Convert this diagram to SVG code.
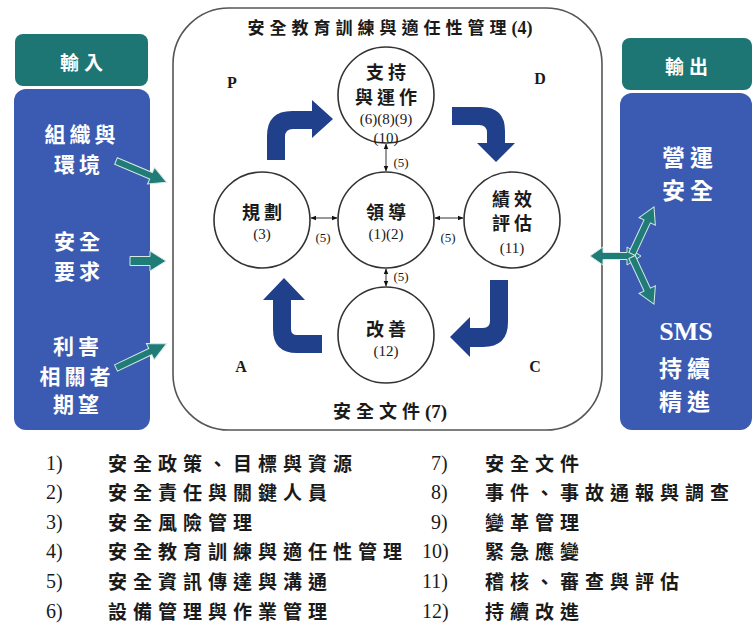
<svg xmlns="http://www.w3.org/2000/svg" width="755" height="632" viewBox="0 0 755 632">
<style>
.cjk{font-family:"Noto Sans CJK TC","Noto Sans CJK SC",sans-serif;font-weight:700;}
.ser{font-family:"Liberation Serif","Times New Roman",serif;}
.wt{fill:#ffffff;}
.dk{fill:#1a1a1a;}
.circ{fill:#ffffff;stroke:#333333;stroke-width:1.6;}
.big{fill:#21408c;}
.teal{fill:#1f7c76;stroke:#d6e8e6;stroke-width:1;}
.thin{stroke:#555555;stroke-width:1.2;fill:none;}
.hdr{fill:#1d7673;}
.body{fill:#3b5bb2;}
</style>
<defs>
<marker id="sm" viewBox="0 0 10 10" refX="9" refY="5" markerWidth="6" markerHeight="6" orient="auto-start-reverse" markerUnits="userSpaceOnUse">
<path d="M0 1 L10 5 L0 9 Z" fill="#111111"/>
</marker>
</defs>
<rect width="755" height="632" fill="#ffffff"/>

<g id="input-panel">
<rect class="hdr" x="15" y="34" width="133" height="52" rx="8"/>
<rect class="body" x="14" y="89" width="136" height="341" rx="12"/>
<text class="cjk wt" x="84" y="70" font-size="19" letter-spacing="5" text-anchor="middle">輸入</text>
<text class="cjk wt" x="82" y="142" font-size="21" letter-spacing="4" text-anchor="middle">組織與</text>
<text class="cjk wt" x="79" y="172" font-size="21" letter-spacing="4" text-anchor="middle">環境</text>
<text class="cjk wt" x="79" y="249" font-size="21" letter-spacing="4" text-anchor="middle">安全</text>
<text class="cjk wt" x="79" y="279" font-size="21" letter-spacing="4" text-anchor="middle">要求</text>
<text class="cjk wt" x="78" y="354" font-size="21" letter-spacing="4" text-anchor="middle">利害</text>
<text class="cjk wt" x="77" y="384" font-size="21" letter-spacing="4" text-anchor="middle">相關者</text>
<text class="cjk wt" x="78" y="412" font-size="21" letter-spacing="4" text-anchor="middle">期望</text>
</g>

<g id="output-panel">
<rect class="hdr" x="622" y="38" width="130" height="52" rx="8"/>
<rect class="body" x="620" y="93" width="132" height="337" rx="12"/>
<text class="cjk wt" x="689" y="74" font-size="19" letter-spacing="5" text-anchor="middle">輸出</text>
<text class="cjk wt" x="690" y="166" font-size="23" letter-spacing="5" text-anchor="middle">營運</text>
<text class="cjk wt" x="690" y="199" font-size="23" letter-spacing="5" text-anchor="middle">安全</text>
<text class="ser wt" x="686" y="340" font-size="26" font-weight="bold" text-anchor="middle">SMS</text>
<text class="cjk wt" x="687" y="377" font-size="23" letter-spacing="5" text-anchor="middle">持續</text>
<text class="cjk wt" x="687" y="410" font-size="23" letter-spacing="5" text-anchor="middle">精進</text>
</g>

<g id="sms-frame">
<rect x="173" y="8" width="429" height="422" rx="56" fill="#ffffff" stroke="#555555" stroke-width="1.6"/>
<text x="390" y="34" text-anchor="middle" class="dk"><tspan class="cjk" font-size="17" letter-spacing="5">安全教育訓練與適任性管理</tspan><tspan class="ser" font-size="18" font-weight="bold">(4)</tspan></text>
<text x="390" y="418" text-anchor="middle" class="dk"><tspan class="cjk" font-size="18" letter-spacing="5">安全文件</tspan><tspan class="ser" font-size="19" font-weight="bold">(7)</tspan></text>
<text class="ser dk" x="232" y="88" font-size="16" font-weight="bold" text-anchor="middle">P</text>
<text class="ser dk" x="540" y="84" font-size="16" font-weight="bold" text-anchor="middle">D</text>
<text class="ser dk" x="241" y="372" font-size="16" font-weight="bold" text-anchor="middle">A</text>
<text class="ser dk" x="535" y="372" font-size="16" font-weight="bold" text-anchor="middle">C</text>
</g>

<g id="node-support">
<circle class="circ" cx="386" cy="95" r="48"/>
<text class="cjk dk" x="388" y="79" font-size="18" letter-spacing="4" text-anchor="middle">支持</text>
<text class="cjk dk" x="388" y="104" font-size="18" letter-spacing="4" text-anchor="middle">與運作</text>
<text class="ser dk" x="386" y="124" font-size="15" text-anchor="middle">(6)(8)(9)</text>
<text class="ser dk" x="386" y="143" font-size="15" text-anchor="middle">(10)</text>
</g>

<g id="node-plan">
<circle class="circ" cx="262" cy="220" r="48"/>
<text class="cjk dk" x="264" y="219" font-size="18" letter-spacing="4" text-anchor="middle">規劃</text>
<text class="ser dk" x="262" y="239" font-size="15" text-anchor="middle">(3)</text>
</g>

<g id="node-lead">
<circle class="circ" cx="386" cy="220" r="48"/>
<text class="cjk dk" x="388" y="219" font-size="18" letter-spacing="4" text-anchor="middle">領導</text>
<text class="ser dk" x="386" y="239" font-size="15" text-anchor="middle">(1)(2)</text>
</g>

<g id="node-eval">
<circle class="circ" cx="512" cy="220" r="48"/>
<text class="cjk dk" x="514" y="206" font-size="18" letter-spacing="4" text-anchor="middle">績效</text>
<text class="cjk dk" x="514" y="230" font-size="18" letter-spacing="4" text-anchor="middle">評估</text>
<text class="ser dk" x="512" y="253" font-size="15" text-anchor="middle">(11)</text>
</g>

<g id="node-improve">
<circle class="circ" cx="386" cy="335" r="48"/>
<text class="cjk dk" x="388" y="336" font-size="18" letter-spacing="4" text-anchor="middle">改善</text>
<text class="ser dk" x="386" y="356" font-size="15" text-anchor="middle">(12)</text>
</g>

<g id="connectors">
<path class="big" d="M267 160 L267 136 Q267 111 292 111 L312 111 L312 100 L333 119 L312 138 L312 129 L293 129 Q285 129 285 137 L285 160 Z"/>
<path class="big" d="M452 107 L481 107 Q505 107 505 131 L505 143 L515 143 L496 162 L477 143 L487 143 L487 133 Q487 125 479 125 L452 125 Z"/>
<path class="big" d="M490 280 L508 280 L508 322 Q508 347 483 347 L470 347 L470 357 L450 337 L470 317 L470 328 L483 328 Q490 328 490 321 Z"/>
<path class="big" d="M284 278 L305 300 L291 300 L291 329 Q291 335 297 335 L322 335 L322 353 L297 353 Q273 353 273 329 L273 300 L263 300 Z"/>

<line class="thin" x1="311" y1="218" x2="337" y2="218" marker-start="url(#sm)" marker-end="url(#sm)"/>
<line class="thin" x1="435" y1="218" x2="463" y2="218" marker-start="url(#sm)" marker-end="url(#sm)"/>
<line class="thin" x1="386" y1="144" x2="386" y2="171" marker-start="url(#sm)" marker-end="url(#sm)"/>
<line class="thin" x1="386" y1="269" x2="386" y2="286" marker-start="url(#sm)" marker-end="url(#sm)"/>
<text class="ser dk" x="323" y="242" font-size="13" text-anchor="middle">(5)</text>
<text class="ser dk" x="448" y="242" font-size="13" text-anchor="middle">(5)</text>
<text class="ser dk" x="401" y="167" font-size="13" text-anchor="middle">(5)</text>
<text class="ser dk" x="401" y="281" font-size="13" text-anchor="middle">(5)</text>

<path class="teal" transform="translate(116 161) rotate(22.8)" d="M0 -3.5 L38 -3.5 L38 -9 L55 0 L38 9 L38 3.5 L0 3.5 Z"/>
<path class="teal" transform="translate(130 261)" d="M0 -4.5 L20 -4.5 L20 -10 L36 0 L20 10 L20 4.5 L0 4.5 Z"/>
<path class="teal" transform="translate(116 368) rotate(-25.6)" d="M0 -3.5 L38 -3.5 L38 -9 L56 0 L38 9 L38 3.5 L0 3.5 Z"/>

<path class="teal" d="M590 256 L603 247 L603 252.5 L627 252.5 L627 247 L641 256 L627 265 L627 259.5 L603 259.5 L603 265 Z"/>
<path class="teal" transform="translate(632 254) rotate(-65)" d="M0 -3.5 L36 -3.5 L36 -9 L52 0 L36 9 L36 3.5 L0 3.5 Z"/>
<path class="teal" transform="translate(632 257) rotate(65)" d="M0 -3.5 L36 -3.5 L36 -9 L52 0 L36 9 L36 3.5 L0 3.5 Z"/>
</g>

<g id="legend">
<g class="ser dk" font-size="20">
<text x="46" y="470">1)</text>
<text x="46" y="499">2)</text>
<text x="46" y="529">3)</text>
<text x="46" y="558">4)</text>
<text x="46" y="588">5)</text>
<text x="46" y="618">6)</text>
<text x="431" y="470">7)</text>
<text x="431" y="499">8)</text>
<text x="431" y="529">9)</text>
<text x="422" y="558">10)</text>
<text x="422" y="588">11)</text>
<text x="422" y="618">12)</text>
</g>
<g class="cjk dk" font-size="19" letter-spacing="6">
<text x="108" y="471">安全政策、目標與資源</text>
<text x="108" y="500">安全責任與關鍵人員</text>
<text x="108" y="530">安全風險管理</text>
<text x="108" y="559">安全教育訓練與適任性管理</text>
<text x="108" y="589">安全資訊傳達與溝通</text>
<text x="108" y="619">設備管理與作業管理</text>
<text x="485" y="471">安全文件</text>
<text x="485" y="500">事件、事故通報與調查</text>
<text x="485" y="530">變革管理</text>
<text x="485" y="559">緊急應變</text>
<text x="485" y="589">稽核、審查與評估</text>
<text x="485" y="619">持續改進</text>
</g>
</g>
</svg>
